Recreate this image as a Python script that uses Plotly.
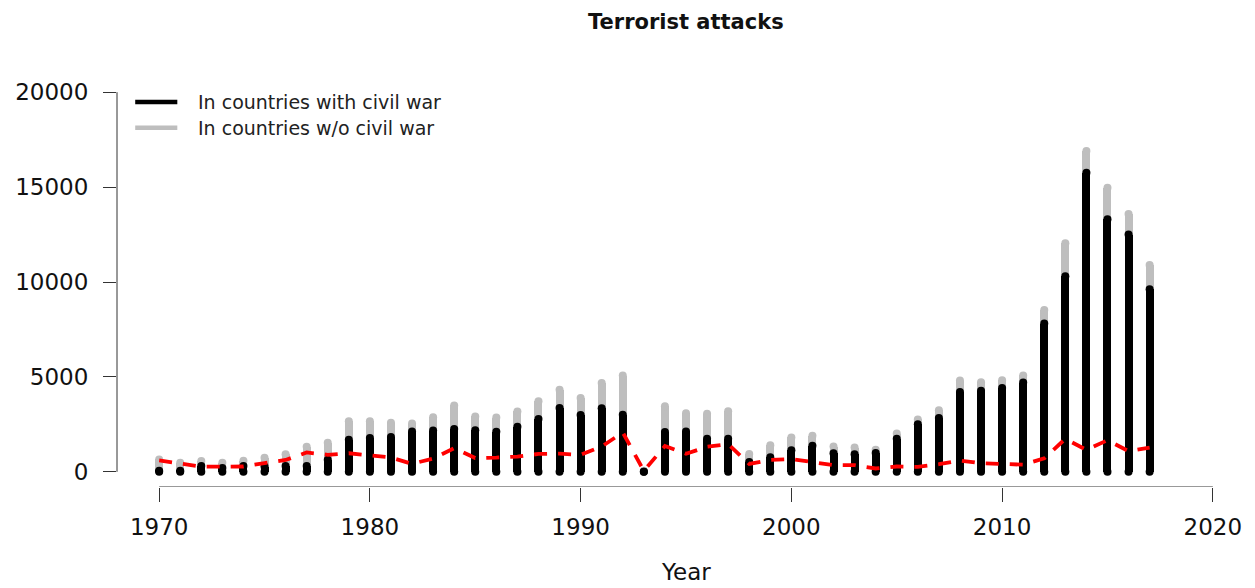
import plotly.graph_objects as go

years = list(range(1970, 2018))
with_civil_war = [50, 60, 300, 200, 300, 280, 300, 300, 630, 1684,
                  1780, 1830, 2124, 2174, 2250, 2190, 2110, 2380, 2780, 3368,
                  2990, 3350, 3000, 0, 2100, 2130, 1740, 1740, 520, 770,
                  1140, 1370, 982, 930, 990, 1737, 2500, 2840, 4210, 4270,
                  4421, 4700, 7810, 10300, 15750, 13300, 12500, 9620]
without_civil_war = [601, 411, 268, 273, 281, 460, 623, 1019, 896, 978,
                     882, 756, 420, 696, 1245, 725, 750, 803, 941, 956,
                     897, 1333, 2071, 50, 1356, 951, 1318, 1457, 414, 625,
                     674, 536, 351, 348, 176, 280, 258, 402, 595, 451,
                     405, 376, 712, 1736, 1153, 1665, 1087, 1280]
total = [a + b for a, b in zip(with_civil_war, without_civil_war)]

x_ticks = [1970, 1980, 1990, 2000, 2010, 2020]
y_ticks = [0, 5000, 10000, 15000, 20000]

title_text = "Terrorist attacks"
x_title = "Year"
legend_labels = ["In countries with civil war", "In countries w/o civil war"]

GRAY = "#BEBEBE"
FONT = "DejaVu Sans"
BAR_W = 0.38

fig = go.Figure()
fig.add_trace(go.Bar(x=years, y=total, width=BAR_W, marker=dict(color=GRAY, line=dict(width=0)),
                     showlegend=False, hoverinfo="skip"))
fig.add_trace(go.Scatter(x=years, y=total, mode="markers",
                         marker=dict(symbol="circle", size=8, color=GRAY, line=dict(width=0)),
                         showlegend=False, hoverinfo="skip"))
fig.add_trace(go.Bar(x=years, y=with_civil_war, width=BAR_W, marker=dict(color="black", line=dict(width=0)),
                     showlegend=False, hoverinfo="skip"))
fig.add_trace(go.Scatter(x=years, y=with_civil_war, mode="markers",
                         marker=dict(symbol="circle", size=8, color="black", line=dict(width=0)),
                         showlegend=False, hoverinfo="skip"))
fig.add_trace(go.Scatter(x=years, y=[0] * len(years), mode="markers",
                         marker=dict(symbol="circle", size=8, color="black", line=dict(width=0)),
                         showlegend=False, hoverinfo="skip", cliponaxis=False))
fig.add_trace(go.Scatter(x=years, y=without_civil_war, mode="lines",
                         line=dict(color="#FF0000", width=3.8, dash="13px,11px"),
                         showlegend=False, hoverinfo="skip"))

AX = "#333333"
shapes = [
    dict(type="line", xref="x", yref="y", x0=x_ticks[0], x1=x_ticks[-1], y0=-800, y1=-800,
         line=dict(color=AX, width=1)),
    dict(type="line", xref="paper", yref="y", x0=0, x1=0, y0=y_ticks[0], y1=y_ticks[-1],
         line=dict(color=AX, width=1)),
    dict(type="line", xref="paper", yref="paper", x0=0.016, x1=0.053, y0=0.9393, y1=0.9393,
         line=dict(color="black", width=4.5)),
    dict(type="line", xref="paper", yref="paper", x0=0.016, x1=0.053, y0=0.876, y1=0.876,
         line=dict(color=GRAY, width=4.5)),
]
annotations = [
    dict(text=legend_labels[0], xref="paper", yref="paper", x=0.0695, y=0.9393,
         xanchor="left", yanchor="middle", showarrow=False, font=dict(family=FONT, size=19, color="#222")),
    dict(text=legend_labels[1], xref="paper", yref="paper", x=0.0695, y=0.876,
         xanchor="left", yanchor="middle", showarrow=False, font=dict(family=FONT, size=19, color="#222")),
    dict(text=x_title, xref="paper", yref="paper", x=0.5, y=(487 - 572) / 410,
         xanchor="center", yanchor="middle", showarrow=False, font=dict(family=FONT, size=23, color="#111")),
    dict(text="<b>" + title_text + "</b>", xref="paper", yref="paper", x=0.5, y=(487 - 22) / 410,
         xanchor="center", yanchor="middle", showarrow=False, font=dict(family=FONT, size=21, color="#111")),
]

fig.update_layout(
    width=1255, height=588,
    margin=dict(l=117, r=0, t=77, b=101, autoexpand=False),
    paper_bgcolor="white", plot_bgcolor="white",
    barmode="overlay", bargap=0,
    shapes=shapes, annotations=annotations,
    xaxis=dict(range=[1968, 2022], tickvals=x_ticks, ticktext=[str(v) for v in x_ticks],
               showgrid=False, zeroline=False, showline=False,
               ticks="outside", ticklen=14, tickcolor=AX, tickwidth=1,
               ticklabelstandoff=5,
               tickfont=dict(family=FONT, size=23, color="#111"), fixedrange=True),
    yaxis=dict(range=[-800, 20800], tickvals=y_ticks, ticktext=[str(v) for v in y_ticks],
               showgrid=False, zeroline=False, showline=False,
               ticks="outside", ticklen=13, tickcolor=AX, tickwidth=1,
               ticklabelstandoff=10,
               tickfont=dict(family=FONT, size=23, color="#111"), fixedrange=True),
)

fig.write_html("out.html")
